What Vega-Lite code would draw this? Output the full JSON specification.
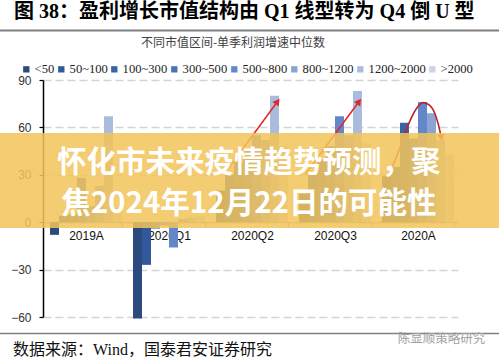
{
  "$schema": "https://vega.github.io/schema/vega-lite/v6.json",
  "width": 415,
  "height": 237,
  "autosize": {"type": "none"},
  "padding": {"left": 43, "top": 80, "right": 41, "bottom": 45},
  "background": "#ffffff",
  "config": {"view": {"stroke": null}, "font": "Liberation Sans"},
  "datasets": {
    "bars": [
      {"period": "2019A", "seg": "<50", "value": -8},
      {"period": "2019A", "seg": "50~100", "value": 4},
      {"period": "2019A", "seg": "100~300", "value": 5},
      {"period": "2019A", "seg": "300~500", "value": 28},
      {"period": "2019A", "seg": "500~800", "value": 10},
      {"period": "2019A", "seg": "800~1200", "value": 23},
      {"period": "2019A", "seg": "1200~2000", "value": 67},
      {"period": "2019A", "seg": ">2000", "value": 9},
      {"period": "2020Q1", "seg": "<50", "value": -61},
      {"period": "2020Q1", "seg": "50~100", "value": -27},
      {"period": "2020Q1", "seg": "100~300", "value": -4},
      {"period": "2020Q1", "seg": "300~500", "value": -2},
      {"period": "2020Q1", "seg": "500~800", "value": -16},
      {"period": "2020Q1", "seg": "800~1200", "value": 2},
      {"period": "2020Q1", "seg": "1200~2000", "value": 3},
      {"period": "2020Q1", "seg": ">2000", "value": 4},
      {"period": "2020Q2", "seg": "<50", "value": 20},
      {"period": "2020Q2", "seg": "50~100", "value": 30},
      {"period": "2020Q2", "seg": "100~300", "value": 38},
      {"period": "2020Q2", "seg": "300~500", "value": 46},
      {"period": "2020Q2", "seg": "500~800", "value": 55},
      {"period": "2020Q2", "seg": "800~1200", "value": 52},
      {"period": "2020Q2", "seg": "1200~2000", "value": 80},
      {"period": "2020Q2", "seg": ">2000", "value": 48},
      {"period": "2020Q3", "seg": "<50", "value": 18},
      {"period": "2020Q3", "seg": "50~100", "value": 30},
      {"period": "2020Q3", "seg": "100~300", "value": 40},
      {"period": "2020Q3", "seg": "300~500", "value": 48},
      {"period": "2020Q3", "seg": "500~800", "value": 67},
      {"period": "2020Q3", "seg": "800~1200", "value": 55},
      {"period": "2020Q3", "seg": "1200~2000", "value": 83},
      {"period": "2020Q3", "seg": ">2000", "value": 50},
      {"period": "2020A", "seg": "<50", "value": 29},
      {"period": "2020A", "seg": "50~100", "value": 35},
      {"period": "2020A", "seg": "100~300", "value": 63},
      {"period": "2020A", "seg": "300~500", "value": 53},
      {"period": "2020A", "seg": "500~800", "value": 76},
      {"period": "2020A", "seg": "800~1200", "value": 69},
      {"period": "2020A", "seg": "1200~2000", "value": 52},
      {"period": "2020A", "seg": ">2000", "value": 43}
    ],
    "arrows": [
      {"arrow": "2020Q2", "i": 0, "u": 2.22, "v": 33},
      {"arrow": "2020Q2", "i": 1, "u": 2.826, "v": 76.4},
      {"arrow": "2020Q3", "i": 0, "u": 3.157, "v": 30},
      {"arrow": "2020Q3", "i": 1, "u": 3.808, "v": 76.4},
      {"arrow": "2020A", "i": 0, "u": 4.16, "v": 29},
      {"arrow": "2020A", "i": 1, "u": 4.30, "v": 47},
      {"arrow": "2020A", "i": 2, "u": 4.42, "v": 64},
      {"arrow": "2020A", "i": 3, "u": 4.50, "v": 72},
      {"arrow": "2020A", "i": 4, "u": 4.58, "v": 75.7},
      {"arrow": "2020A", "i": 5, "u": 4.66, "v": 74},
      {"arrow": "2020A", "i": 6, "u": 4.72, "v": 69},
      {"arrow": "2020A", "i": 7, "u": 4.76, "v": 62.5},
      {"arrow": "2020A", "i": 8, "u": 4.80, "v": 53.4}
    ],
    "tips": [
      {"arrow": "2020Q2", "u": 2.826, "v": 76.4},
      {"arrow": "2020Q3", "u": 3.808, "v": 76.4},
      {"arrow": "2020A", "u": 4.80, "v": 53.4}
    ]
  },
  "layer": [
    {
      "data": {"name": "bars"},
      "mark": {"type": "bar"},
      "encoding": {
        "x": {
          "field": "period", "type": "nominal",
          "sort": ["2019A", "2020Q1", "2020Q2", "2020Q3", "2020A"],
          "scale": {"paddingInner": 0.1325, "paddingOuter": 0.0663, "align": 0.636},
          "axis": {
            "orient": "bottom", "offset": -94.8, "title": null, "labelAngle": 0,
            "labelFont": "Liberation Sans", "labelFontSize": 12, "labelColor": "#111111",
            "labelPadding": 4, "tickBand": "extent", "ticks": true, "tickSize": 4,
            "tickColor": "#999999", "domainColor": "#999999", "domainWidth": 1, "grid": false
          }
        },
        "xOffset": {
          "field": "seg", "type": "nominal",
          "sort": ["<50", "50~100", "100~300", "300~500", "500~800", "800~1200", "1200~2000", ">2000"],
          "scale": {"paddingInner": 0, "paddingOuter": 0}
        },
        "y": {
          "field": "value", "type": "quantitative",
          "scale": {"domain": [-60, 90], "nice": false, "zero": false},
          "axis": {
            "values": [-60, -30, 0, 30, 60, 90], "title": null,
            "domain": true, "domainColor": "#000000", "domainWidth": 1.5,
            "ticks": true, "tickColor": "#000000", "tickSize": 4, "tickWidth": 1.2,
            "labelFont": "Liberation Sans", "labelFontSize": 12, "labelColor": "#333333",
            "labelPadding": 8, "grid": true, "gridColor": "#D4D4D4", "gridDash": [8, 4], "gridWidth": 1.3
          }
        },
        "color": {
          "field": "seg", "type": "nominal",
          "scale": {
            "domain": ["<50", "50~100", "100~300", "300~500", "500~800", "800~1200", "1200~2000", ">2000"],
            "range": ["#2B4B7E", "#31589A", "#3A63A6", "#4874B8", "#6288C9", "#8AA4D4", "#AABCDD", "#CCD5E8"]
          },
          "legend": {
            "orient": "none", "legendX": -23, "legendY": -17, "direction": "horizontal",
            "columns": 8, "title": null, "symbolType": "square", "symbolSize": 40,
            "symbolStrokeWidth": 0, "labelFont": "Liberation Serif", "labelFontSize": 12.6,
            "labelColor": "#222222", "columnPadding": 0, "labelOffset": 2, "padding": 0
          }
        }
      }
    },
    {
      "layer": [
        {
          "data": {"name": "arrows"},
          "transform": [{"filter": "datum.arrow != '2020A'"}],
          "mark": {"type": "line", "color": "#E3262B", "strokeWidth": 1.5},
          "encoding": {
            "x": {"field": "u", "type": "quantitative", "scale": {"domain": [0, 5], "nice": false, "zero": false}, "axis": null},
            "y": {"field": "v", "type": "quantitative", "scale": {"domain": [-60, 90], "nice": false, "zero": false}},
            "detail": {"field": "arrow"},
            "order": {"field": "i"}
          }
        },
        {
          "data": {"name": "arrows"},
          "transform": [{"filter": "datum.arrow == '2020A'"}],
          "mark": {"type": "line", "color": "#B8262C", "strokeWidth": 1.6, "interpolate": "monotone"},
          "encoding": {
            "x": {"field": "u", "type": "quantitative", "scale": {"domain": [0, 5], "nice": false, "zero": false}, "axis": null},
            "y": {"field": "v", "type": "quantitative", "scale": {"domain": [-60, 90], "nice": false, "zero": false}},
            "order": {"field": "i"}
          }
        },
        {
          "data": {"name": "tips"},
          "transform": [{"filter": "datum.arrow != '2020A'"}],
          "mark": {"type": "point", "shape": "triangle-up", "filled": true, "color": "#E3262B", "size": 60, "angle": 36, "opacity": 1},
          "encoding": {
            "x": {"field": "u", "type": "quantitative", "scale": {"domain": [0, 5], "nice": false, "zero": false}, "axis": null},
            "y": {"field": "v", "type": "quantitative", "scale": {"domain": [-60, 90], "nice": false, "zero": false}}
          }
        },
        {
          "data": {"name": "tips"},
          "transform": [{"filter": "datum.arrow == '2020A'"}],
          "mark": {"type": "point", "shape": "triangle-up", "filled": true, "color": "#E3262B", "size": 60, "angle": 168, "opacity": 1},
          "encoding": {
            "x": {"field": "u", "type": "quantitative", "scale": {"domain": [0, 5], "nice": false, "zero": false}, "axis": null},
            "y": {"field": "v", "type": "quantitative", "scale": {"domain": [-60, 90], "nice": false, "zero": false}}
          }
        },
        {
          "data": {"values": [{}]},
          "mark": {"type": "rect", "color": "#F2C45A", "opacity": 0.86},
          "encoding": {
            "x": {"datum": -0.518, "type": "quantitative", "scale": {"domain": [0, 5], "nice": false, "zero": false}, "axis": null},
            "x2": {"datum": 5.494},
            "y": {"datum": 56.5, "type": "quantitative", "scale": {"domain": [-60, 90], "nice": false, "zero": false}},
            "y2": {"datum": -3.7}
          }
        },
        {
          "data": {"values": [{}]},
          "mark": {"type": "text", "text": "怀化市未来疫情趋势预测，聚", "font": "Noto Sans CJK SC", "fontWeight": "bold", "fontSize": 29.5, "color": "#ffffff", "align": "center", "baseline": "middle"},
          "encoding": {
            "x": {"datum": 2.48, "type": "quantitative", "scale": {"domain": [0, 5], "nice": false, "zero": false}, "axis": null},
            "y": {"datum": 37.2, "type": "quantitative", "scale": {"domain": [-60, 90], "nice": false, "zero": false}}
          }
        },
        {
          "data": {"values": [{}]},
          "mark": {"type": "text", "text": "焦2024年12月22日的可能性", "font": "Noto Sans CJK SC", "fontWeight": "bold", "fontSize": 29.5, "color": "#ffffff", "align": "center", "baseline": "middle"},
          "encoding": {
            "x": {"datum": 2.48, "type": "quantitative", "scale": {"domain": [0, 5], "nice": false, "zero": false}, "axis": null},
            "y": {"datum": 11.8, "type": "quantitative", "scale": {"domain": [-60, 90], "nice": false, "zero": false}}
          }
        },
        {
          "data": {"values": [{}]},
          "mark": {"type": "rule", "color": "#7F7F7F", "strokeWidth": 2},
          "encoding": {
            "x": {"datum": -0.518, "type": "quantitative", "scale": {"domain": [0, 5], "nice": false, "zero": false}, "axis": null},
            "x2": {"datum": 5.494},
            "y": {"datum": 121.3, "type": "quantitative", "scale": {"domain": [-60, 90], "nice": false, "zero": false}}
          }
        },
        {
          "data": {"values": [{}]},
          "mark": {"type": "rule", "color": "#7F7F7F", "strokeWidth": 1.5},
          "encoding": {
            "x": {"datum": -0.518, "type": "quantitative", "scale": {"domain": [0, 5], "nice": false, "zero": false}, "axis": null},
            "x2": {"datum": 5.494},
            "y": {"datum": -70.4, "type": "quantitative", "scale": {"domain": [-60, 90], "nice": false, "zero": false}}
          }
        },
        {
          "data": {"values": [{}]},
          "mark": {"type": "text", "text": "图 38：盈利增长市值结构由 Q1 线型转为 Q4 倒 U 型", "font": "Liberation Serif, Noto Sans CJK SC", "fontWeight": "bold", "fontSize": 20, "color": "#000000", "align": "left", "baseline": "middle"},
          "encoding": {
            "x": {"datum": -0.349, "type": "quantitative", "scale": {"domain": [0, 5], "nice": false, "zero": false}, "axis": null},
            "y": {"datum": 133.0, "type": "quantitative", "scale": {"domain": [-60, 90], "nice": false, "zero": false}}
          }
        },
        {
          "data": {"values": [{}]},
          "mark": {"type": "text", "text": "不同市值区间-单季利润增速中位数", "font": "Noto Sans CJK SC", "fontSize": 12, "color": "#404040", "align": "center", "baseline": "middle"},
          "encoding": {
            "x": {"datum": 2.289, "type": "quantitative", "scale": {"domain": [0, 5], "nice": false, "zero": false}, "axis": null},
            "y": {"datum": 113.4, "type": "quantitative", "scale": {"domain": [-60, 90], "nice": false, "zero": false}}
          }
        },
        {
          "data": {"values": [{}]},
          "mark": {"type": "text", "text": "数据来源：Wind，国泰君安证券研究", "font": "Liberation Serif, Noto Sans CJK SC", "fontSize": 16, "color": "#111111", "align": "left", "baseline": "middle"},
          "encoding": {
            "x": {"datum": -0.361, "type": "quantitative", "scale": {"domain": [0, 5], "nice": false, "zero": false}, "axis": null},
            "y": {"datum": -80.9, "type": "quantitative", "scale": {"domain": [-60, 90], "nice": false, "zero": false}}
          }
        },
        {
          "data": {"values": [{}]},
          "mark": {"type": "text", "text": "陈显顺策略研究", "font": "Noto Sans CJK SC", "fontSize": 12.5, "color": "#A0A0A0", "align": "center", "baseline": "middle"},
          "encoding": {
            "x": {"datum": 4.801, "type": "quantitative", "scale": {"domain": [0, 5], "nice": false, "zero": false}, "axis": null},
            "y": {"datum": -74.2, "type": "quantitative", "scale": {"domain": [-60, 90], "nice": false, "zero": false}}
          }
        }
      ]
    }
  ],
  "resolve": {"scale": {"x": "independent"}, "axis": {"x": "independent"}}
}
